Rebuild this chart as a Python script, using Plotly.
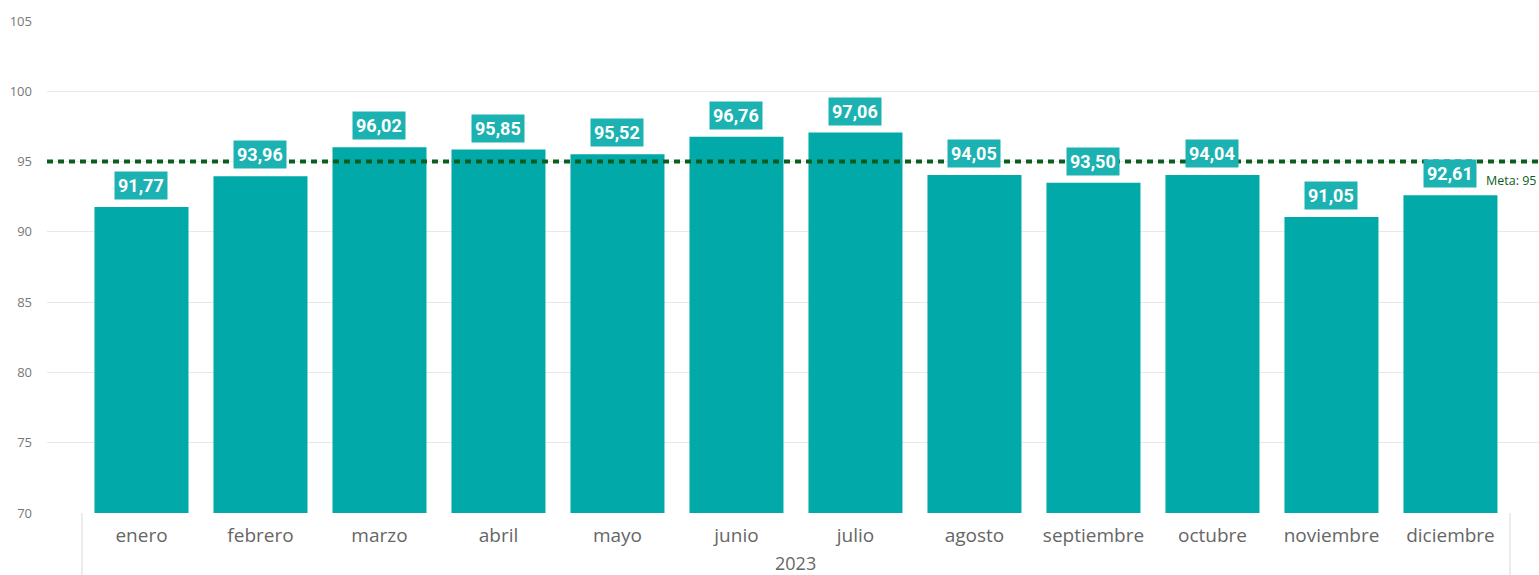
import plotly.graph_objects as go

months = ["enero", "febrero", "marzo", "abril", "mayo", "junio", "julio",
          "agosto", "septiembre", "octubre", "noviembre", "diciembre"]
values = [91.77, 93.96, 96.02, 95.85, 95.52, 96.76, 97.06, 94.05, 93.50, 94.04, 91.05, 92.61]
year_label = "2023"
target = 95
y_ticks = [70, 75, 80, 85, 90, 95, 100, 105]

BAR = "#01A9A9"
LABEL_BG = "#1DB2B2"
GREEN = "#0B5E1E"

fig = go.Figure()
fig.add_trace(go.Bar(x=list(range(len(months))), y=values, marker_color=BAR,
                     marker_line_width=0, width=0.79, hoverinfo="skip"))

fig.add_shape(type="line", xref="paper", x0=0, x1=1, y0=target, y1=target,
              line=dict(color=GREEN, width=4, dash="6px,5px"), layer="above")

for i, v in enumerate(values):
    fig.add_annotation(x=i, y=v, text=f"<b>{v:.2f}".replace(".", ",") + "</b>",
                       showarrow=False, yanchor="bottom", yshift=7,
                       bgcolor=LABEL_BG, borderpad=3,
                       font=dict(family="Roboto", size=18, color="white"))

fig.add_annotation(xref="paper", x=1, y=target, text=f"Meta: {target}", showarrow=False,
                   xanchor="right", yanchor="top", yshift=-8,
                   font=dict(family="Open Sans", size=12.5, color=GREEN))

# category separators below axis
for xv in [-0.5, len(months) - 0.5]:
    fig.add_shape(type="line", xref="x", yref="paper", x0=xv, x1=xv, y0=0, y1=-0.2,
                  line=dict(color="#E6E6E6", width=1.5))

fig.add_annotation(xref="x", yref="paper", x=(len(months) - 1) / 2, y=0, yshift=-50,
                   text=year_label, showarrow=False, yanchor="middle",
                   font=dict(family="Open Sans", size=18, color="#666666"))

fig.update_layout(
    width=1539, height=575,
    margin=dict(l=47, r=0, t=21, b=62),
    plot_bgcolor="white", paper_bgcolor="white",
    showlegend=False, bargap=0.2,
    xaxis=dict(tickmode="array", tickvals=list(range(len(months))), ticktext=months,
               range=[-0.794, 11.744], showgrid=False, zeroline=False, showline=False,
               ticks="", ticklabelstandoff=9,
               tickfont=dict(family="Open Sans", size=19, color="#666666")),
    yaxis=dict(range=[70, 105], tickvals=y_ticks, showgrid=True, gridcolor="#E8E8E8",
               gridwidth=1, zeroline=False, showline=False, ticks="", ticklabelstandoff=14,
               tickfont=dict(family="Open Sans", size=13, color="#777777")),
)

fig.write_html("out.html", config={"displayModeBar": False},
               post_script="document.body.style.margin='0';document.body.style.overflow='hidden';")
